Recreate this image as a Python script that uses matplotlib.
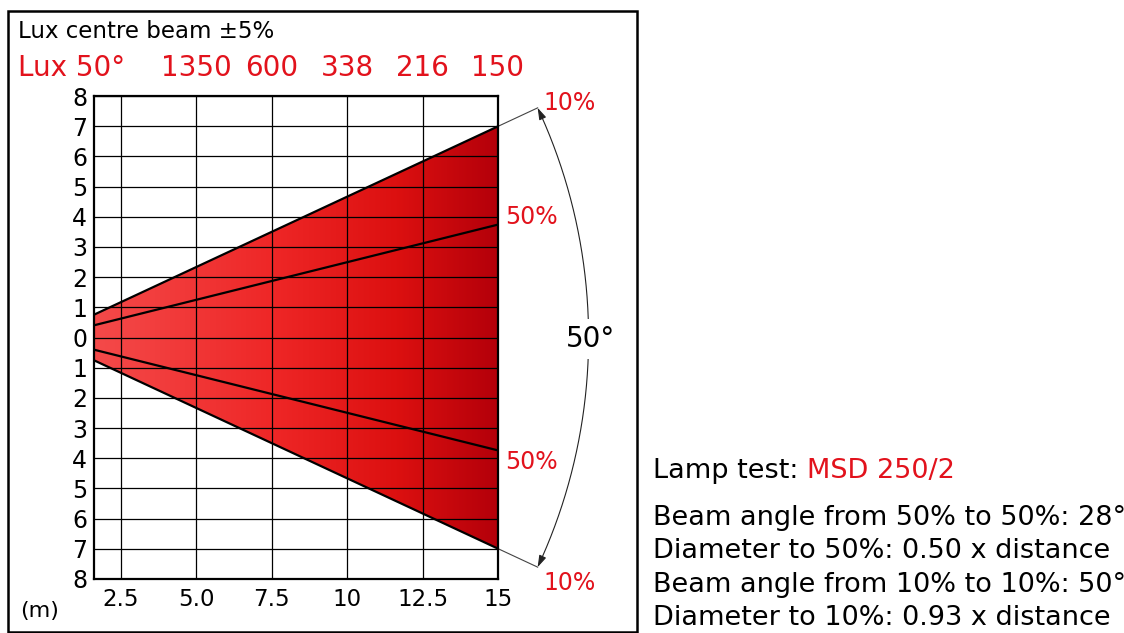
import numpy as np
import matplotlib
matplotlib.use('Agg')
import matplotlib.pyplot as plt
import matplotlib.transforms as mtransforms
from matplotlib.colors import LinearSegmentedColormap
from matplotlib.patches import Polygon, Rectangle, FancyArrowPatch
from matplotlib.path import Path

# ---------------- data ----------------
distances = [5.0, 7.5, 10.0, 12.5, 15.0]
lux_values = [1350, 600, 338, 216, 150]
x_ticks = [2.5, 5.0, 7.5, 10, 12.5, 15]
x_tick_labels = ["2.5", "5.0", "7.5", "10", "12.5", "15"]
y_ticks = list(range(-8, 9))
y_tick_labels = [str(abs(v)) for v in y_ticks]
beam_angle_10 = 50   # degrees, 10% to 10%
beam_angle_50 = 28   # degrees, 50% to 50%
max_distance = 15.0
lamp_name = "MSD 250/2"
info_lines = ["Beam angle from 50% to 50%: 28°",
              "Diameter to 50%: 0.50 x distance",
              "Beam angle from 10% to 10%: 50°",
              "Diameter to 10%: 0.93 x distance"]

RED = '#e2121c'
plt.rcParams['font.family'] = ['DejaVu Sans']

W, H = 1124, 633
fig = plt.figure(figsize=(W / 100, H / 100), dpi=100)
fig.patch.set_facecolor('white')


def fx(px):
    return px / W


def fy(py):
    return 1 - py / H


ax = fig.add_axes([fx(94), fy(579), fx(498) - fx(94), fy(96) - fy(579)])
x_min = 1.62

# gradient beam fill
t10 = np.tan(np.radians(beam_angle_10 / 2))
t50 = np.tan(np.radians(beam_angle_50 / 2))
cmap = LinearSegmentedColormap.from_list(
    'beam', [(0.0, '#f44a4a'), (0.45, '#ee2626'), (0.75, '#dc1010'), (1.0, '#b4000a')])
grad = np.linspace(0, 1, 256).reshape(1, -1)
im = ax.imshow(grad, extent=(x_min, max_distance, -8, 8), aspect='auto', cmap=cmap,
               origin='lower', zorder=0, interpolation='bicubic')
beam_poly = Polygon([(0, 0), (max_distance, max_distance * t10), (max_distance, -max_distance * t10)],
                    closed=True, transform=ax.transData)
im.set_clip_path(beam_poly)

# beam edge lines
for t in (t10, -t10, t50, -t50):
    ax.plot([0, max_distance], [0, max_distance * t], color='black', lw=1.6, zorder=3,
            solid_capstyle='butt')

ax.set_xlim(x_min, max_distance)
ax.set_ylim(-8, 8)
ax.set_xticks(x_ticks)
ax.set_xticklabels(x_tick_labels)
ax.set_yticks(y_ticks)
ax.set_yticklabels(y_tick_labels)
ax.tick_params(axis='both', length=0, colors='black')
ax.tick_params(axis='x', labelsize=16.5, pad=6.5)
ax.tick_params(axis='y', labelsize=17, pad=5)
ax.grid(True, color='black', lw=0.9)
ax.set_axisbelow(False)
for s in ax.spines.values():
    s.set_linewidth(1.6)
    s.set_zorder(4)

# arc with arrows and extension lines
r = 18.0
half = beam_angle_10 / 2
theta = np.radians(np.linspace(-half, half, 300))
arc_path = Path(np.column_stack([r * np.cos(theta), r * np.sin(theta)]))
arc = FancyArrowPatch(path=arc_path, arrowstyle='<|-|>,head_length=0.7,head_width=0.22',
                      mutation_scale=10, lw=0.8, color='#222222', transform=ax.transData,
                      clip_on=False, zorder=2)
ax.add_patch(arc)
for sgn in (1, -1):
    ax.plot([max_distance, r * np.cos(np.radians(half))],
            [sgn * max_distance * t10, sgn * r * np.sin(np.radians(half))],
            color='#444444', lw=0.8, clip_on=False, zorder=2)

# percentage labels
ax.text(16.5, 7.76, '10%', color=RED, fontsize=17, ha='left', va='center', clip_on=False)
ax.text(16.5, -8.12, '10%', color=RED, fontsize=17, ha='left', va='center', clip_on=False)
ax.text(15.22, 3.99, '50%', color=RED, fontsize=17, ha='left', va='center', clip_on=False)
ax.text(15.22, -4.12, '50%', color=RED, fontsize=17, ha='left', va='center', clip_on=False)
ax.text(18.05, -0.05, f'{beam_angle_10}°', color='black', fontsize=20, ha='center', va='center',
        clip_on=False, zorder=5,
        bbox=dict(facecolor='white', edgecolor='none', pad=4))

# headers
fig.text(fx(18), fy(38), 'Lux centre beam ±5%', fontsize=16.5, color='black',
         ha='left', va='baseline')
fig.text(fx(18), fy(76), f'Lux {beam_angle_10}°', fontsize=20, color=RED,
         ha='left', va='baseline')
blend = mtransforms.blended_transform_factory(ax.transData, fig.transFigure)
for d, lx in zip(distances, lux_values):
    ax.text(d, fy(76), str(lx), transform=blend, fontsize=20, color=RED,
            ha='center', va='baseline', clip_on=False)

fig.text(fx(20), fy(611), '(m)', fontsize=16, color='black', ha='left', va='center')

# right info block
lt = fig.text(fx(653), fy(478), 'Lamp test:', fontsize=19.5, color='black',
              ha='left', va='baseline')
fig.text(fx(807), fy(478), lamp_name, fontsize=19.5, color=RED, ha='left', va='baseline')
baselines = [525, 558, 592, 625]
for line, b in zip(info_lines, baselines):
    fig.text(fx(653), fy(b), line, fontsize=19.5, color='black', ha='left', va='baseline')

# outer frame
fig.add_artist(Rectangle((fx(8), fy(632)), fx(637) - fx(8), fy(11) - fy(632),
                         transform=fig.transFigure, fill=False, lw=1.8, ec='black'))

fig.savefig('out.png', dpi=100)
